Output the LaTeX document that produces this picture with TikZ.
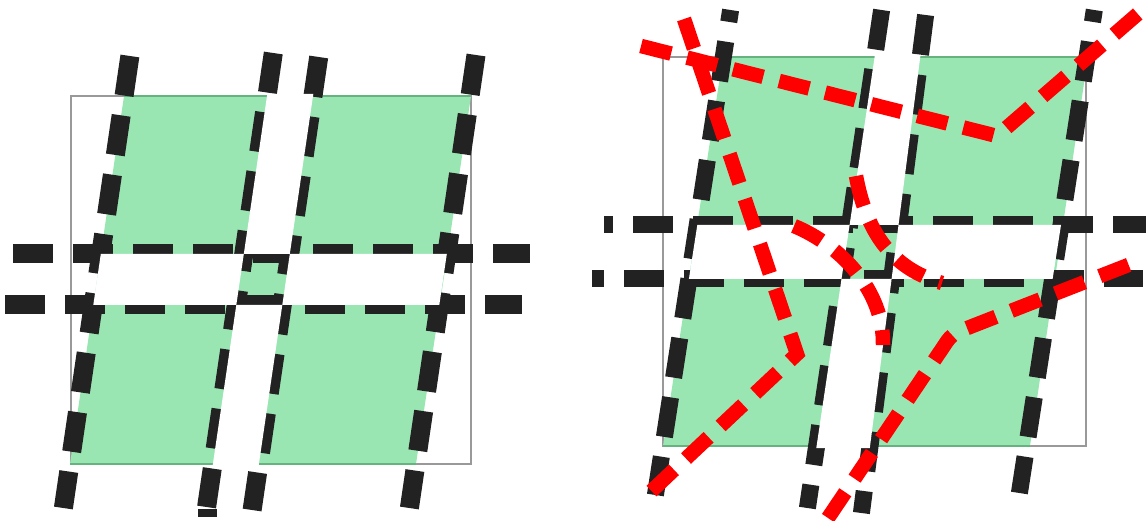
\documentclass[tikz,border=0pt]{standalone}
\definecolor{lawn}{HTML}{99E6B3}
\definecolor{lawnedge}{HTML}{66B380}
\definecolor{frame}{HTML}{999999}
\definecolor{ink}{HTML}{222222}
\definecolor{route}{HTML}{FF0000}
\begin{document}
\begin{tikzpicture}[
			x=1pt, y=-1pt,
			parcel/.style={fill=lawn},
			rim/.style={draw=lawnedge, line width=2pt},
			bound/.style={draw=frame, line width=2pt},
			kerb/.style={draw=ink, line width=19pt, dash pattern=on 40pt off 20pt},
			kerbR/.style={kerb, line width=17pt},
			road/.style={fill=white},
			trail/.style={draw=route, line width=14.5pt, dash pattern=on 31pt off 16.5pt}
		]
		\useasboundingbox (0,0) rectangle (1146,521);
		% left
		\draw[bound] (71,96) rectangle (471,464);
		\fill[parcel] (124,96) -- (471,96) -- (416,464) -- (70,464) -- cycle;
		\draw[rim] (124,96) -- (471,96) (70,464) -- (416,464);
		\draw[kerb] (129.9,56) -- (63.4,508);
		\draw[kerb] (273.3,53) -- (206.6,507);
		\draw[kerb] (318.7,57) -- (252.1,510);
		\draw[kerb] (476.0,55) -- (409.4,508);
		\draw[kerb] (13,254) -- (530,254);
		\draw[kerb] (5,305) -- (522,305);
		\fill[ink] (198,509) rectangle (217,517);
		\fill[road] (267.3,94) -- (313.3,94) -- (289.8,254) -- (243.8,254) -- cycle;
		\fill[road] (236.3,305) -- (282.3,305) -- (258.6,466) -- (212.6,466) -- cycle;
		\fill[road] (100.8,254) -- (243.8,254) -- (236.3,305) -- (93.3,305) -- cycle;
		\fill[road] (289.8,254) -- (446.8,254) -- (439.3,305) -- (282.3,305) -- cycle;
		% right
		\draw[bound] (663,57) rectangle (1086,446);
		\fill[parcel] (723,57) -- (1086,57) -- (1086,70) -- (1030,446) -- (663,446) -- cycle;
		\draw[rim] (723,57) -- (1086,57) (663,446) -- (1030,446);
		\draw[kerbR, dash phase=28pt] (730.6,10) -- (655.4,495);
		\draw[kerbR] (881.6,10) -- (807.4,508);
		\draw[kerbR] (925.6,15) -- (861.4,513);
		\draw[kerbR, dash phase=28pt] (1094.3,10) -- (1019.4,493);
		\draw[kerbR, dash phase=31pt] (604,225) -- (1146,225);
		\draw[kerbR, dash phase=28pt] (592,279) -- (1143,279);
		\fill[road] (874.9,55) -- (920.5,55) -- (898.5,225) -- (849.6,225) -- cycle;
		\fill[road] (841.5,279) -- (891.6,279) -- (869.8,448) -- (816.3,448) -- cycle;
		\fill[road] (697.3,225) -- (849.6,225) -- (841.5,279) -- (688.9,279) -- cycle;
		\fill[road] (898.5,225) -- (1061,225) -- (1052.6,279) -- (891.6,279) -- cycle;
		\draw[trail] (641,46) -- (997,136) -- (1140,12);
		\draw[trail] (684,19) -- (797,354) -- (643,499);
		\draw[trail] (856,176) .. controls (866,230) and (890,268) .. (942,283);
		\draw[trail] (794,226) .. controls (840,245) and (884,290) .. (883,345);
		\draw[trail, rounded corners=8pt] (828,518) -- (952,334) -- (1136,262);
	\end{tikzpicture}
\end{document}
